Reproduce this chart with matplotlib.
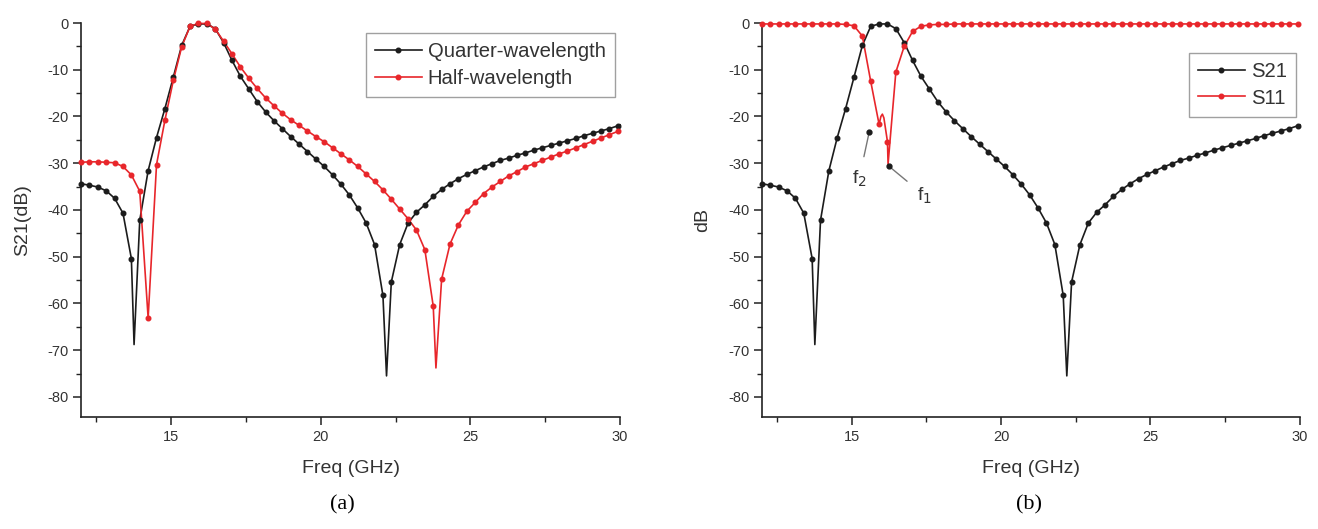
import numpy as np
import matplotlib.pyplot as plt
from matplotlib.lines import Line2D
from matplotlib.ticker import MultipleLocator

plt.rcParams['font.family'] = ['Liberation Sans', 'DejaVu Sans']
plt.rcParams['axes.unicode_minus'] = False

# sweep points in GHz (one every 0.28 GHz from 12 GHz)
freq = np.round(12 + 0.28 * np.arange(65), 2)

# S21 of the quarter-wavelength filter (dB)
s21_quarter = [
    -34.4, -34.7, -35.1, -35.9, -37.5, -40.7, -50.4, -42.2, -31.6, -24.5,
    -18.3, -11.6, -4.8, -0.7, -0.2, -0.2, -1.2, -4.2, -8.0, -11.4,
    -14.1, -16.8, -19.0, -20.9, -22.6, -24.3, -25.9, -27.5, -29.1, -30.7,
    -32.5, -34.5, -36.8, -39.6, -42.8, -47.4, -58.3, -55.4, -47.4, -42.8,
    -40.5, -38.9, -37.1, -35.6, -34.4, -33.3, -32.4, -31.6, -30.8, -30.1,
    -29.4, -28.9, -28.3, -27.8, -27.2, -26.7, -26.2, -25.7, -25.2, -24.7,
    -24.1, -23.6, -23.1, -22.6, -22.0,
]
# points of the quarter-wavelength trace between sweep markers
quarter_extra_f = [13.77, 22.20, 30.0]
quarter_extra_db = [-68.8, -75.5, -21.8]

# S21 of the half-wavelength filter (dB)
s21_half = [
    -29.8, -29.7, -29.7, -29.8, -29.9, -30.7, -32.5, -36.0, -63.1, -30.3,
    -20.8, -12.3, -5.1, -0.7, -0.1, -0.1, -1.3, -3.9, -6.6, -9.4,
    -11.8, -14.0, -16.0, -17.7, -19.3, -20.7, -21.9, -23.1, -24.3, -25.4,
    -26.7, -28.0, -29.3, -30.7, -32.3, -33.9, -35.7, -37.7, -39.8, -41.9,
    -44.3, -48.5, -60.6, -54.8, -47.3, -43.2, -40.3, -38.4, -36.5, -35.1,
    -33.9, -32.7, -31.8, -30.8, -30.1, -29.4, -28.7, -28.0, -27.4, -26.7,
    -26.0, -25.3, -24.6, -23.9, -23.2,
]
half_extra_f = [23.85, 30.0]
half_extra_db = [-73.8, -23.0]

# S11 of the quarter-wavelength filter (dB)
s11 = [
    -0.2, -0.2, -0.2, -0.2, -0.2, -0.2, -0.2, -0.2, -0.2, -0.2,
    -0.3, -0.6, -2.8, -12.5, -21.7, -25.4, -10.5, -5.0, -1.8, -0.7,
    -0.4, -0.3, -0.3, -0.2, -0.2, -0.2, -0.2, -0.2, -0.2, -0.2,
    -0.2, -0.2, -0.2, -0.2, -0.2, -0.2, -0.2, -0.2, -0.2, -0.2,
    -0.2, -0.2, -0.2, -0.2, -0.2, -0.2, -0.2, -0.2, -0.2, -0.2,
    -0.2, -0.2, -0.2, -0.2, -0.2, -0.2, -0.2, -0.2, -0.2, -0.2,
    -0.2, -0.2, -0.2, -0.2, -0.2,
]
s11_extra_f = [15.98, 16.03, 16.08, 16.22, 30.0]
s11_extra_db = [-20.0, -19.5, -20.3, -30.2, -0.2]

# reflection zeros marked on panel (b): point, label position
zero_labels = ['f$_2$', 'f$_1$']
zero_points = [(15.59, -23.3), (16.26, -30.7)]
zero_text = [(15.25, -33.4), (17.45, -37.0)]

BLACK = '#1c1c1c'
RED = '#e8262b'
TEXT = '#333333'


def full_trace(values, extra_f, extra_db):
    f = np.concatenate([freq, extra_f])
    v = np.concatenate([values, extra_db])
    order = np.argsort(f)
    return f[order], v[order]


def draw_trace(ax, values, extra_f, extra_db, color):
    f, v = full_trace(values, extra_f, extra_db)
    ax.plot(f, v, '-', color=color, lw=1.2, clip_on=False, zorder=3)
    ax.plot(freq, values, 'o', color=color, ms=3.3, mec=color, clip_on=False, zorder=4)


def style_axes(ax, ylabel):
    ax.set_xlim(12, 30)
    ax.set_ylim(-84.3, 0)
    ax.set_xticks([15, 20, 25, 30])
    ax.xaxis.set_minor_locator(MultipleLocator(2.5))
    ax.set_yticks(np.arange(-80, 1, 10))
    ax.yaxis.set_minor_locator(MultipleLocator(5))
    ax.spines['top'].set_visible(False)
    ax.spines['right'].set_visible(False)
    for s in ('left', 'bottom'):
        ax.spines[s].set_linewidth(1.2)
        ax.spines[s].set_color('#222222')
    ax.tick_params(which='major', direction='out', length=6, width=1.1,
                   labelsize=10.5, labelcolor=TEXT, color='#222222', pad=3)
    ax.tick_params(which='minor', direction='out', length=3.5, width=1.0, color='#222222')
    ax.set_xlabel('Freq (GHz)', fontsize=14, color=TEXT, labelpad=12)
    ax.set_ylabel(ylabel, fontsize=14, color=TEXT, labelpad=12)


def handle(color):
    return Line2D([], [], color=color, lw=1.2, marker='o', ms=3.3)


def add_legend(ax, labels, anchor):
    leg = ax.legend([handle(BLACK), handle(RED)], labels,
                    loc='upper right', bbox_to_anchor=anchor, fontsize=14.6,
                    frameon=True, fancybox=False, numpoints=1, handlelength=2.3,
                    handletextpad=0.3, borderpad=0.45, labelspacing=0.38,
                    borderaxespad=0.2)
    leg.get_frame().set_edgecolor('#888888')
    leg.get_frame().set_linewidth(1.0)
    for t in leg.get_texts():
        t.set_color(TEXT)


fig = plt.figure(figsize=(13.18, 5.29), dpi=100)
ax_a = fig.add_axes([0.0615, 0.2117, 0.409, 0.7448])
ax_b = fig.add_axes([0.5781, 0.2117, 0.4082, 0.7448])

# (a) quarter- vs half-wavelength resonators
draw_trace(ax_a, s21_quarter, quarter_extra_f, quarter_extra_db, BLACK)
draw_trace(ax_a, s21_half, half_extra_f, half_extra_db, RED)
style_axes(ax_a, 'S21(dB)')
add_legend(ax_a, ['Quarter-wavelength', 'Half-wavelength'], (0.998, 0.985))

# (b) S21 and S11 of the quarter-wavelength filter
draw_trace(ax_b, s21_quarter, quarter_extra_f, quarter_extra_db, BLACK)
draw_trace(ax_b, s11, s11_extra_f, s11_extra_db, RED)
style_axes(ax_b, 'dB')
add_legend(ax_b, ['S21', 'S11'], (1.0, 0.935))

for label, (px, py), (tx, ty) in zip(zero_labels, zero_points, zero_text):
    ax_b.annotate(label, xy=(px, py), xytext=(tx, ty), fontsize=14, color=TEXT,
                  ha='center', va='center',
                  arrowprops=dict(arrowstyle='-', color='#777777', lw=1.0,
                                  shrinkA=7, shrinkB=0))
    ax_b.plot(px, py, 'o', color=BLACK, ms=3.5, zorder=5)

fig.text(0.260, 0.045, '(a)', family='Liberation Serif', fontsize=16, ha='center', va='center')
fig.text(0.781, 0.045, '(b)', family='Liberation Serif', fontsize=16, ha='center', va='center')

fig.savefig('out.png', dpi=100, facecolor='white')
